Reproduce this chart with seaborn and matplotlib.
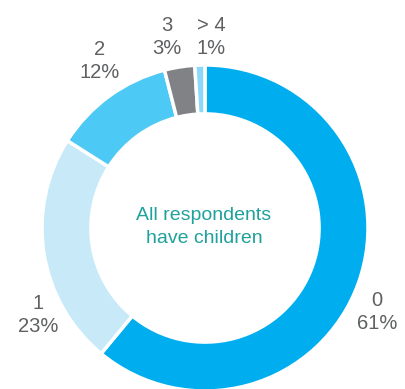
import seaborn as sns
import matplotlib.pyplot as plt

# Data
categories = ["0", "1", "2", "3", "> 4"]
shares = [61, 23, 12, 3, 1]
colors = ["#00AEEF", "#C8E9F8", "#4CC9F5", "#808285", "#8DD8F8"]

sns.set_theme(style="white")
plt.rcParams['font.family'] = ['Liberation Sans', 'DejaVu Sans']

fig = plt.figure(figsize=(4.06, 3.89), dpi=100)
ax = fig.add_axes([0, 0, 1, 1])

# donut, start at 12 o'clock going clockwise
ax.pie(
    shares,
    colors=colors,
    startangle=90,
    counterclock=False,
    radius=1.0,
    wedgeprops=dict(width=0.30, edgecolor="white", linewidth=2.5),
)

# pixel layout -> data coords (centre at 205,228 px, radius 163 px)
cx, cy, r = 205, 228, 163
ax.set_xlim(-cx / r, (406 - cx) / r)
ax.set_ylim(-(389 - cy) / r, cy / r)
ax.set_aspect("equal")
ax.axis("off")

def px(x, y):
    return (x - cx) / r, (cy - y) / r

# label positions in pixels
label_pos = [(377, 312), (38, 315), (100, 61), (167, 37), (211, 37)]
for cat, val, (lx, ly) in zip(categories, shares, label_pos):
    x, y = px(lx, ly)
    ax.text(x, y, f"{cat}\n{val}%", ha="center", va="center",
            fontsize=14.5, color="#5E6062", linespacing=1.25)

x, y = px(204, 227)
ax.text(x, y, "All respondents\nhave children", ha="center", va="center",
        fontsize=14, color="#1FA19C", linespacing=1.4)

fig.savefig("out.png", dpi=100)
